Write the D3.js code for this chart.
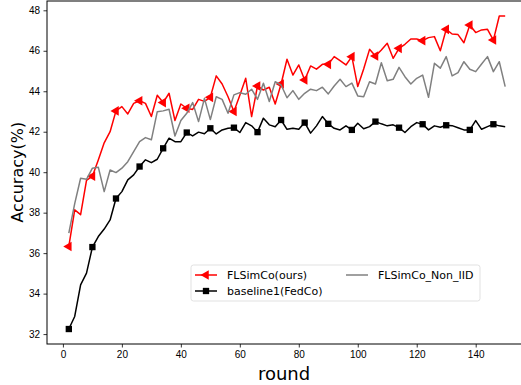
<!DOCTYPE html>
<html>
<head>
<meta charset="utf-8">
<script src="https://cdn.jsdelivr.net/npm/d3@7"></script>
<style>
  body { margin: 0; background: #fff; }
  svg { display: block; font-family: "DejaVu Sans", sans-serif; }
</style>
</head>
<body>
<div id="chart"></div>
<script>
// rounds 2, 4, ..., 150
const rounds = d3.range(75).map((i) => 2 + i * 2)

const flsimco = [
  36.33, 38.14, 37.9, 39.6, 39.8, 40.6, 41.45, 42.0, 43.03, 43.24,
  42.88, 43.4, 43.53, 43.4, 42.75, 43.8, 43.44, 43.9, 42.55, 43.37,
  43.16, 43.1, 43.6, 43.5, 43.7, 44.76, 44.36, 43.73, 43.0, 43.8,
  44.64, 42.75, 44.26, 44.06, 44.2, 43.37, 44.36, 45.58, 44.8, 45.3,
  44.56, 45.25, 45.09, 45.33, 45.33, 45.71, 45.51, 45.3, 45.71, 44.23,
  45.1, 46.07, 45.74, 46.04, 46.37, 45.63, 46.12, 46.32, 46.58, 46.58,
  46.5, 46.65, 46.7, 46.0, 47.06, 46.83, 46.8, 46.4, 47.27, 46.9,
  47.03, 47.06, 46.53, 47.72, 47.72
]

const baseline1 = [
  32.25, 32.87, 34.43, 35.01, 36.3, 36.82, 37.19, 37.64, 38.7, 39.04,
  39.62, 39.87, 40.28, 40.61, 40.47, 40.64, 41.18, 41.68, 41.51, 41.51,
  41.96, 41.79, 41.98, 41.9, 42.17, 41.89, 42.09, 42.17, 42.2, 41.96,
  42.45, 42.29, 41.98, 42.67, 42.34, 42.25, 42.58, 42.12, 42.17, 42.12,
  42.45, 41.93, 42.29, 42.75, 42.39, 42.17, 42.09, 42.29, 42.09, 42.42,
  42.15, 42.25, 42.5, 42.39, 42.29, 42.34, 42.2, 41.96, 42.25, 42.45,
  42.37, 42.09, 42.29, 42.22, 42.32, 42.3, 42.2, 42.09, 42.09, 42.55,
  42.12, 42.25, 42.37, 42.29, 42.25
]

const nonIID = [
  36.99, 38.45, 39.7, 39.65, 40.2, 40.25, 39.04, 40.11, 39.98, 40.2,
  40.52, 41.02, 41.51, 41.71, 41.6, 42.99, 43.03, 43.11, 41.79, 42.55,
  42.91, 43.44, 42.5, 43.65, 42.6, 43.73, 43.6, 42.91, 43.82, 43.93,
  43.85, 44.1, 43.6, 44.4, 43.49, 44.47, 44.31, 43.68, 44.03, 43.6,
  43.9, 44.1, 44.03, 44.2, 43.87, 44.26, 44.59, 44.23, 44.4, 43.77,
  43.73, 44.47, 44.36, 45.41, 44.52, 44.59, 45.18, 44.72, 44.36, 44.64,
  44.8, 43.7, 45.38, 45.14, 45.71, 44.76, 44.92, 45.46, 45.09, 44.97,
  45.35, 45.71, 44.97, 45.46, 44.23
]

const xTicks = [0, 20, 40, 60, 80, 100, 120, 140]
const yTicks = [32, 34, 36, 38, 40, 42, 44, 46, 48]

const width = 521
const height = 385
const margin = { top: 1, right: -6, bottom: 41, left: 47 }
const boundedWidth = width - margin.left - margin.right
const boundedHeight = height - margin.top - margin.bottom

const svg = d3.select('#chart').append('svg').attr('width', width).attr('height', height)
const bounds = svg.append('g').attr('transform', `translate(${margin.left},${margin.top})`)

const xScale = d3.scaleLinear().domain([-5.4, 157.4]).range([0, boundedWidth])
const yScale = d3.scaleLinear().domain([31.51, 48.46]).range([boundedHeight, 0])

// axes
const xAxis = bounds
  .append('g')
  .attr('transform', `translate(0,${boundedHeight})`)
  .call(d3.axisBottom(xScale).tickValues(xTicks).tickSize(3.5).tickPadding(3.5))
const yAxis = bounds.append('g').call(d3.axisLeft(yScale).tickValues(yTicks).tickSize(3.5).tickPadding(3.5))

for (const ax of [xAxis, yAxis]) {
  ax.select('.domain').remove()
  ax.selectAll('.tick line').attr('stroke', '#000').attr('stroke-width', 0.8)
  ax.selectAll('.tick text').attr('fill', '#000').style('font-size', '10px')
}

// frame
bounds
  .append('rect')
  .attr('width', boundedWidth)
  .attr('height', boundedHeight)
  .attr('fill', 'none')
  .attr('stroke', '#000')
  .attr('stroke-width', 1)

const series = [
  { name: 'FLSimCo(ours)', values: flsimco, color: '#ff0000', marker: 'tri' },
  { name: 'baseline1(FedCo)', values: baseline1, color: '#000000', marker: 'square' },
  { name: 'FLSimCo_Non_IID', values: nonIID, color: '#808080', marker: null },
]

const lineGen = d3
  .line()
  .x((d) => xScale(d[0]))
  .y((d) => yScale(d[1]))

const triPath = d3.symbol().type(d3.symbolTriangle).size(40)()
const sqPath = d3.symbol().type(d3.symbolSquare).size(40)()

const drawMarker = (g, kind, color, x, y) => {
  if (kind === 'tri') {
    g.append('path').attr('d', triPath).attr('fill', color).attr('transform', `translate(${x},${y}) rotate(-90)`)
  } else if (kind === 'square') {
    g.append('path').attr('d', sqPath).attr('fill', color).attr('transform', `translate(${x},${y})`)
  }
}

const plot = bounds.append('g')
for (const s of series) {
  const pts = rounds.map((r, i) => [r, s.values[i]])
  plot
    .append('path')
    .attr('d', lineGen(pts))
    .attr('fill', 'none')
    .attr('stroke', s.color)
    .attr('stroke-width', 1.5)
    .attr('stroke-linejoin', 'round')
  if (s.marker) {
    pts
      .filter((p, i) => i % 4 === 0)
      .forEach((p) => drawMarker(plot, s.marker, s.color, xScale(p[0]), yScale(p[1])))
  }
}

// axis labels
svg
  .append('text')
  .attr('x', margin.left + xScale(75))
  .attr('y', 380)
  .attr('text-anchor', 'middle')
  .style('font-size', '18px')
  .text('round')
svg
  .append('text')
  .attr('transform', `translate(23,${margin.top + yScale(40)}) rotate(-90)`)
  .attr('text-anchor', 'middle')
  .style('font-size', '16px')
  .text('Accuracy(%)')

// legend
const legend = svg.append('g').attr('transform', 'translate(191,265)')
legend
  .append('rect')
  .attr('width', 289)
  .attr('height', 36)
  .attr('rx', 2.5)
  .attr('fill', '#fff')
  .attr('fill-opacity', 0.8)
  .attr('stroke', '#d9d9d9')
  .attr('stroke-width', 0.8)

const legendPos = [
  { x: 4, y: 10 },
  { x: 4, y: 26 },
  { x: 155, y: 10 },
]
series.forEach((s, i) => {
  const { x, y } = legendPos[i]
  legend
    .append('line')
    .attr('x1', x)
    .attr('x2', x + 22)
    .attr('y1', y)
    .attr('y2', y)
    .attr('stroke', s.color)
    .attr('stroke-width', 1.5)
  drawMarker(legend, s.marker, s.color, x + 11, y)
  legend
    .append('text')
    .attr('x', x + 32)
    .attr('y', y)
    .attr('dy', '0.35em')
    .style('font-size', '11px')
    .text(s.name)
})
</script>
</body>
</html>
